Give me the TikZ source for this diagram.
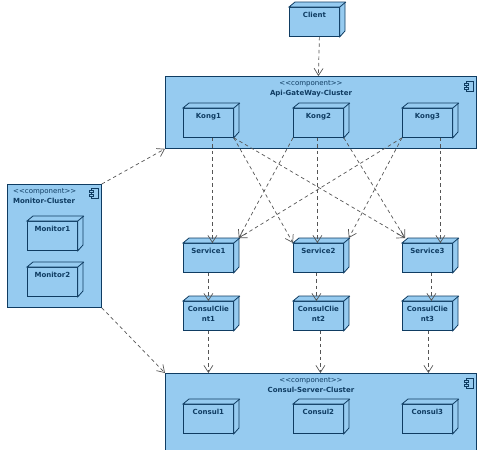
\documentclass[tikz,border=0pt]{standalone}
\usepackage{fontspec}
\setmainfont{DejaVu Sans}
\usepackage{xcolor}
\usetikzlibrary{arrows.meta}
\definecolor{boxfill}{HTML}{96CBF0}
\definecolor{boxline}{HTML}{0F3C62}
\definecolor{dashgray}{HTML}{555555}
\tikzset{
  devbox/.style   = {draw=boxline,fill=boxfill,line width=0.8pt,anchor=north west,inner sep=0pt,
                     minimum width=50pt,text width=50pt,align=center,text height=10.5pt,text depth=18.5pt,
                     font=\fontsize{7}{10}\selectfont\bfseries,text=boxline},
  cluster/.style  = {draw=boxline,fill=boxfill,line width=0.8pt,anchor=north west,inner sep=0pt},
  clustitle/.style= {font=\fontsize{7}{10}\selectfont,text=boxline,inner sep=0pt,align=center},
  depline/.style  = {-{Straight Barb[length=7pt,width=9pt]},dashgray,line width=0.7pt,dash pattern=on 3.5pt off 3pt}
}
% box with the two side faces
\newcommand{\devnode}[4]{%
  \node[devbox] (#1) at (#2,#3) {#4};
  \draw[boxline,fill=boxfill,line width=0.8pt] (#1.north west) -- ++(6,-5) -- ++(50,0) -- ++(0,29)
    -- (#1.south east) -- (#1.north east) -- cycle;
  \draw[boxline,line width=0.8pt] (#1.north east) -- ++(6,-5);
}
% small component mark, given its top left corner
\newcommand{\compmark}[2]{%
  \draw[boxline,fill=boxfill,line width=0.7pt] (#1+2,#2) rectangle (#1+9,#2+10);
  \draw[boxline,fill=boxfill,line width=0.7pt] (#1,#2+2.5) rectangle (#1+4,#2+4.5);
  \draw[boxline,fill=boxfill,line width=0.7pt] (#1,#2+6) rectangle (#1+4,#2+8);
}
\newcommand{\stereo}{{<}{<}component{>}{>}}

\begin{document}
\begin{tikzpicture}[x=1pt,y=-1pt]
  \useasboundingbox (0,0) rectangle (488,450);
  \clip (0,0) rectangle (488,450);

  % clusters
  \node[cluster,minimum width=311pt,minimum height=72pt] (apicluster) at (165,76) {};
  \node[cluster,minimum width=311pt,minimum height=90pt] (consulcluster) at (165,373) {};
  \node[cluster,minimum width=94pt,minimum height=123pt] (monitorcluster) at (7,184) {};
  \compmark{464}{81}
  \compmark{464}{378}
  \compmark{89}{188}

  \node[clustitle] (apititle) at (311,89) {\stereo\\\textbf{Api-GateWay-Cluster}};
  \node[clustitle] (consultitle) at (311,385) {\stereo\\\textbf{Consul-Server-Cluster}};
  \node[clustitle,align=left,anchor=north west] (monitortitle) at (13,188) {\stereo\\\textbf{Monitor-Cluster}};

  % nodes
  \devnode{client}{289}{7}{Client}
  \devnode{kong1}{183}{108}{Kong1}
  \devnode{kong2}{293}{108}{Kong2}
  \devnode{kong3}{402}{108}{Kong3}
  \devnode{service1}{183}{243}{Service1}
  \devnode{service2}{293}{243}{Service2}
  \devnode{service3}{402}{243}{Service3}
  \devnode{consulclient1}{183}{301}{ConsulClie\\nt1}
  \devnode{consulclient2}{293}{301}{ConsulClie\\nt2}
  \devnode{consulclient3}{402}{301}{ConsulClie\\nt3}
  \devnode{consul1}{183}{404}{Consul1}
  \devnode{consul2}{293}{404}{Consul2}
  \devnode{consul3}{402}{404}{Consul3}
  \devnode{monitor1}{27}{221}{Monitor1}
  \devnode{monitor2}{27}{267}{Monitor2}

  % connectors
  \draw[depline] ([xshift=5pt]client.south) -- ([xshift=-2.5pt]apicluster.north);
  \draw[depline] ([xshift=4pt]kong1.south) -- ([xshift=4pt]service1.north);
  \draw[depline] ([xshift=-1pt]kong2.south) -- ([xshift=-1pt]service2.north);
  \draw[depline] ([xshift=13pt]kong3.south) -- ([xshift=13pt]service3.north);
  \draw[depline] (kong1.south east) -- (service2.north west);
  \draw[depline] (kong1.south east) -- ([shift={(3,-5)}]service3.north west);
  \draw[depline] (kong2.south west) -- ([shift={(5,-5)}]service1.north east);
  \draw[depline] (kong2.south east) -- ([shift={(3,-5)}]service3.north west);
  \draw[depline] (kong3.south west) -- ([shift={(5,-5)}]service1.north east);
  \draw[depline] (kong3.south west) -- ([shift={(5,-5)}]service2.north east);
  \draw[depline] (service1.south) -- (consulclient1.north);
  \draw[depline] ([xshift=-2pt]service2.south) -- ([xshift=-2pt]consulclient2.north);
  \draw[depline] ([xshift=4pt]service3.south) -- ([xshift=4pt]consulclient3.north);
  \draw[depline] (consulclient1.south) -- (consulclient1.south |- consulcluster.north);
  \draw[depline] ([xshift=2pt]consulclient2.south) -- ([xshift=2pt]consulclient2.south |- consulcluster.north);
  \draw[depline] ([xshift=1pt]consulclient3.south) -- ([xshift=1pt]consulclient3.south |- consulcluster.north);
  \draw[depline] (monitorcluster.north east) -- (apicluster.south west);
  \draw[depline] (monitorcluster.south east) -- (consulcluster.north west);
\end{tikzpicture}
\end{document}
